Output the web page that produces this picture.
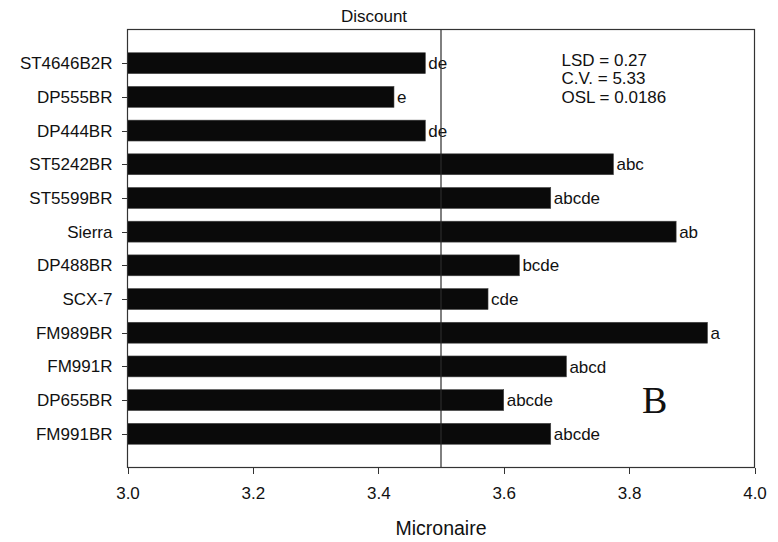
<!DOCTYPE html>
<html>
  <head>
    <meta charset="utf-8" />
    <title>Micronaire - Discount</title>
    <script src="https://d3js.org/d3.v7.min.js"></script>
    <style>
      body {
        margin: 0;
        background: #fff;
      }
      svg {
        font-family: "Liberation Sans", Arial, sans-serif;
        background-color: #fff;
      }
      .axis path,
      .axis line {
        fill: none;
        stroke: #333;
        shape-rendering: crispEdges;
      }
      .axis text {
        font-size: 17px;
        fill: #111;
      }
    </style>
  </head>
  <body>
    <div id="chart-container"></div>
    <script>
      //data, top to bottom
      const varieties = [
        "ST4646B2R",
        "DP555BR",
        "DP444BR",
        "ST5242BR",
        "ST5599BR",
        "Sierra",
        "DP488BR",
        "SCX-7",
        "FM989BR",
        "FM991R",
        "DP655BR",
        "FM991BR",
      ];
      const micronaire = [
        3.475, 3.425, 3.475, 3.775, 3.675, 3.875, 3.625, 3.575, 3.925, 3.7,
        3.6, 3.675,
      ];
      const letters = [
        "de", "e", "de", "abc", "abcde", "ab", "bcde", "cde", "a", "abcd",
        "abcde", "abcde",
      ];
      const xTicks = [3.0, 3.2, 3.4, 3.6, 3.8, 4.0];
      const refValue = 3.5;
      const stats = ["LSD = 0.27", "C.V. = 5.33", "OSL = 0.0186"];

      const width = 778;
      const height = 542;
      const plot = { left: 127.5, right: 754.5, top: 29.5, bottom: 467.5 };

      const svg = d3
        .select("#chart-container")
        .append("svg")
        .attr("width", width)
        .attr("height", height);

      //scales
      const xScale = d3
        .scaleLinear()
        .domain([3.0, 4.0])
        .range([plot.left, plot.right]);
      //categories sit one step in from the top and bottom of the frame
      const yScale = d3
        .scaleLinear()
        .domain([-1, varieties.length])
        .range([plot.top, plot.bottom]);
      const step = yScale(1) - yScale(0);
      const barH = step * 0.62;

      //bars
      svg
        .selectAll(".bar")
        .data(micronaire)
        .join("rect")
        .attr("class", "bar")
        .attr("x", xScale(3.0))
        .attr("y", (d, i) => yScale(i) - barH / 2)
        .attr("width", (d) => xScale(d) - xScale(3.0))
        .attr("height", barH)
        .attr("fill", "#0a0a0a")
        .attr("stroke", "#444")
        .attr("stroke-width", 0.6);

      //letter groupings after each bar
      svg
        .selectAll(".letter")
        .data(micronaire)
        .join("text")
        .attr("class", "letter")
        .attr("x", (d) => xScale(d) + 3)
        .attr("y", (d, i) => yScale(i))
        .attr("dy", "0.36em")
        .attr("font-size", "17px")
        .attr("fill", "#111")
        .text((d, i) => letters[i]);

      //reference line at 3.5
      svg
        .append("line")
        .attr("x1", xScale(refValue))
        .attr("x2", xScale(refValue))
        .attr("y1", plot.top)
        .attr("y2", plot.bottom)
        .attr("stroke", "#2a2a2a")
        .attr("stroke-width", 1.2);

      //frame
      svg
        .append("rect")
        .attr("x", plot.left)
        .attr("y", plot.top)
        .attr("width", plot.right - plot.left)
        .attr("height", plot.bottom - plot.top)
        .attr("fill", "none")
        .attr("stroke", "#333")
        .attr("stroke-width", 1.2);

      //x axis
      const xAxis = d3
        .axisBottom(xScale)
        .tickValues(xTicks)
        .tickFormat(d3.format(".1f"))
        .tickSize(6)
        .tickPadding(13);
      svg
        .append("g")
        .attr("class", "axis")
        .attr("transform", `translate(0,${plot.bottom})`)
        .call(xAxis)
        .call((g) => g.select(".domain").remove());

      //y axis with variety names
      const yAxis = d3
        .axisLeft(yScale)
        .tickValues(d3.range(varieties.length))
        .tickFormat((i) => varieties[i])
        .tickSize(6)
        .tickPadding(9);
      svg
        .append("g")
        .attr("class", "axis")
        .attr("transform", `translate(${plot.left},0)`)
        .call(yAxis)
        .call((g) => g.select(".domain").remove());

      //titles
      svg
        .append("text")
        .attr("x", 374)
        .attr("y", 21.5)
        .attr("text-anchor", "middle")
        .attr("font-size", "17px")
        .attr("fill", "#111")
        .text("Discount");

      svg
        .append("text")
        .attr("x", (plot.left + plot.right) / 2)
        .attr("y", 535)
        .attr("text-anchor", "middle")
        .attr("font-size", "19.5px")
        .attr("fill", "#111")
        .text("Micronaire");

      //stats block
      svg
        .append("g")
        .selectAll("text")
        .data(stats)
        .join("text")
        .attr("x", 561.5)
        .attr("y", (d, i) => 66 + i * 18.4)
        .attr("font-size", "17px")
        .attr("fill", "#111")
        .text((d) => d);

      //panel letter
      svg
        .append("text")
        .attr("x", 642)
        .attr("y", 412.5)
        .attr("font-family", "'Liberation Serif', 'Times New Roman', serif")
        .attr("font-size", "38px")
        .attr("fill", "#111")
        .text("B");
    </script>
  </body>
</html>
